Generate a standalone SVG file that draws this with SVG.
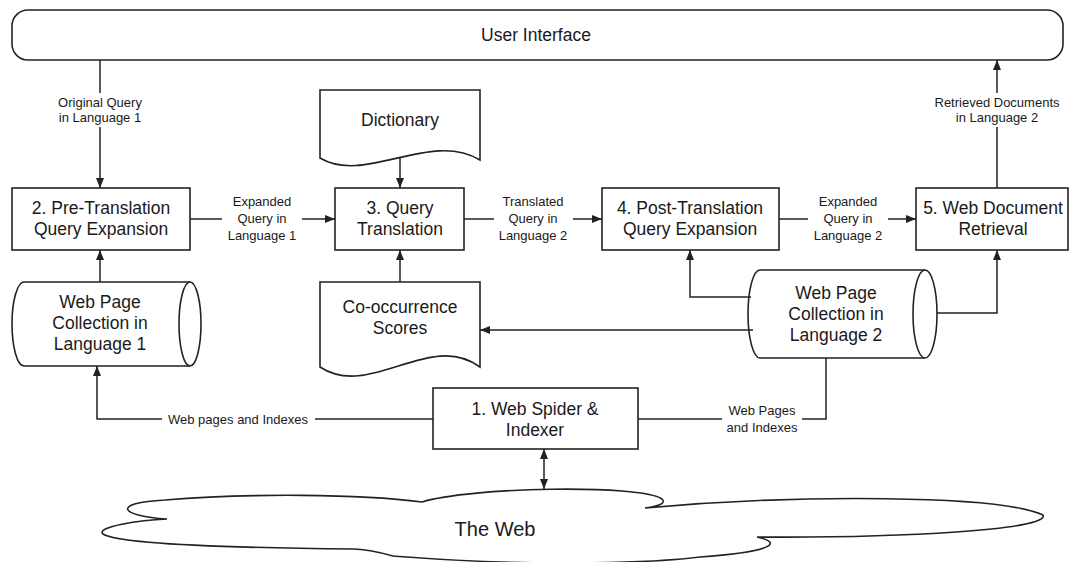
<svg xmlns="http://www.w3.org/2000/svg" width="1071" height="562" viewBox="0 0 1071 562">
<defs>
<style>
.s{fill:#fff;stroke:#222;stroke-width:1.6}
.ln{fill:none;stroke:#222;stroke-width:1.5}
.t{font-family:"Liberation Sans",Arial,sans-serif;font-size:17.5px;fill:#1a1a1a;text-anchor:middle}
.e{font-family:"Liberation Sans",Arial,sans-serif;font-size:13px;fill:#1a1a1a;text-anchor:middle}
.w{font-family:"Liberation Sans",Arial,sans-serif;font-size:20px;fill:#1a1a1a;text-anchor:middle}
</style>
<marker id="arr" viewBox="0 0 10 8" refX="10" refY="4" markerWidth="10" markerHeight="8" markerUnits="userSpaceOnUse" orient="auto-start-reverse">
<path d="M0,0 L10,4 L0,8 z" fill="#222"/>
</marker>
</defs>
<rect width="1071" height="562" fill="#fff"/>

<g id="ui">
<rect class="s" x="12" y="10" width="1051" height="50" rx="16"/>
<text class="t" x="536" y="41">User Interface</text>
</g>

<g id="web">
<path class="s" d="M167,519 C120,516 110,503 165,500 C250,493 360,494 422,502 C470,487 640,484 662,499 Q668,505 645,508 C800,494 1000,495 1043,515 C1050,530 900,538 757,537 C785,543 770,552 700,557 C660,562 620,563 560,563 C480,563 420,558 393,556 C375,551 365,549 353,549 C250,548 120,545 103,534 C95,527 140,520 167,519 Z"/>
<text class="w" x="495" y="536">The Web</text>
</g>

<g id="n2">
<rect class="s" x="12" y="188" width="178" height="62"/>
<text class="t" x="101" y="214">2. Pre-Translation</text>
<text class="t" x="101" y="235">Query Expansion</text>
</g>

<g id="n3">
<rect class="s" x="335" y="188" width="129" height="62"/>
<text class="t" x="400" y="214">3. Query</text>
<text class="t" x="400" y="235">Translation</text>
</g>

<g id="n4">
<rect class="s" x="602" y="188" width="177" height="62"/>
<text class="t" x="690" y="214">4. Post-Translation</text>
<text class="t" x="690" y="235">Query Expansion</text>
</g>

<g id="n5">
<rect class="s" x="916" y="188" width="152" height="62"/>
<text class="t" x="993" y="214">5. Web Document</text>
<text class="t" x="993" y="235">Retrieval</text>
</g>

<g id="n1">
<rect class="s" x="433" y="388" width="205" height="61"/>
<text class="t" x="535" y="415">1. Web Spider &amp;</text>
<text class="t" x="535" y="436">Indexer</text>
</g>

<g id="dict">
<path class="s" d="M320,90 H480 V160 C430,130 365,185 320,158 Z"/>
<text class="t" x="400" y="126">Dictionary</text>
</g>

<g id="cooc">
<path class="s" d="M320,282 H480 V367 C430,330 370,400 320,367 Z"/>
<text class="t" x="400" y="313">Co-occurrence</text>
<text class="t" x="400" y="334">Scores</text>
</g>

<g id="cyl1">
<path class="s" d="M190,282 H24 A12 42 0 0 0 24,366 H190"/>
<ellipse class="s" cx="190" cy="324" rx="11" ry="42"/>
<text class="t" x="100" y="308">Web Page</text>
<text class="t" x="100" y="329">Collection in</text>
<text class="t" x="100" y="350">Language 1</text>
</g>

<g id="cyl2">
<path class="s" d="M925,270 H760 A12 44 0 0 0 760,358 H925"/>
<ellipse class="s" cx="925" cy="314" rx="12" ry="44"/>
<text class="t" x="836" y="299">Web Page</text>
<text class="t" x="836" y="320">Collection in</text>
<text class="t" x="836" y="341">Language 2</text>
</g>

<g id="connectors">
<path class="ln" d="M100,60 V93"/>
<path class="ln" d="M100,127 V188" marker-end="url(#arr)"/>
<text class="e" x="100" y="107">Original Query</text>
<text class="e" x="100" y="122">in Language 1</text>

<path class="ln" d="M190,219 H222"/>
<path class="ln" d="M302,219 H335" marker-end="url(#arr)"/>
<text class="e" x="262" y="206">Expanded</text>
<text class="e" x="262" y="223">Query in</text>
<text class="e" x="262" y="240">Language 1</text>

<path class="ln" d="M400,158 V188" marker-end="url(#arr)"/>
<path class="ln" d="M400,282 V250" marker-end="url(#arr)"/>

<path class="ln" d="M464,219 H494"/>
<path class="ln" d="M573,219 H602" marker-end="url(#arr)"/>
<text class="e" x="533" y="206">Translated</text>
<text class="e" x="533" y="223">Query in</text>
<text class="e" x="533" y="240">Language 2</text>

<path class="ln" d="M779,219 H808"/>
<path class="ln" d="M888,219 H916" marker-end="url(#arr)"/>
<text class="e" x="848" y="206">Expanded</text>
<text class="e" x="848" y="223">Query in</text>
<text class="e" x="848" y="240">Language 2</text>

<path class="ln" d="M997,188 V127"/>
<path class="ln" d="M997,93 V60" marker-end="url(#arr)"/>
<text class="e" x="997" y="107">Retrieved Documents</text>
<text class="e" x="997" y="122">in Language 2</text>

<path class="ln" d="M100,282 V250" marker-end="url(#arr)"/>
<path class="ln" d="M751,297 H690 V250" marker-end="url(#arr)"/>
<path class="ln" d="M753,330 H480" marker-end="url(#arr)"/>
<path class="ln" d="M937,313 H997 V250" marker-end="url(#arr)"/>

<path class="ln" d="M433,419 H315"/>
<path class="ln" d="M162,419 H97 V366" marker-end="url(#arr)"/>
<text class="e" x="238" y="424">Web pages and Indexes</text>

<path class="ln" d="M638,419 H722"/>
<path class="ln" d="M802,419 H826 V358"/>
<text class="e" x="762" y="415">Web Pages</text>
<text class="e" x="762" y="432">and Indexes</text>

<path class="ln" d="M544,449 V489" marker-start="url(#arr)" marker-end="url(#arr)"/>
</g>
</svg>
